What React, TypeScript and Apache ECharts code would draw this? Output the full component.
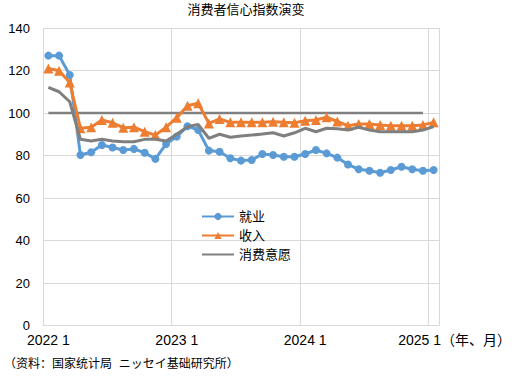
import React, { useEffect, useRef } from "react";
import * as echarts from "echarts";

const months: string[] = [
  "2022 1", "2022 2", "2022 3", "2022 4", "2022 5", "2022 6", "2022 7", "2022 8", "2022 9", "2022 10", "2022 11", "2022 12",
  "2023 1", "2023 2", "2023 3", "2023 4", "2023 5", "2023 6", "2023 7", "2023 8", "2023 9", "2023 10", "2023 11", "2023 12",
  "2024 1", "2024 2", "2024 3", "2024 4", "2024 5", "2024 6", "2024 7", "2024 8", "2024 9", "2024 10", "2024 11", "2024 12",
  "2025 1",
];

const employment: number[] = [
  127.0, 127.0, 117.9, 80.2, 81.5, 84.9, 83.8, 82.6, 83.1, 81.3, 78.4, 85.4,
  88.9, 93.8, 92.0, 82.3, 81.8, 78.7, 77.6, 77.9, 80.7, 80.2, 79.4, 79.4,
  80.7, 82.6, 81.0, 79.0, 75.8, 73.5, 72.8, 71.9, 73.2, 74.7, 73.5, 72.8,
  73.2,
];

const income: number[] = [
  121.0, 119.9, 114.3, 92.8, 93.3, 96.7, 95.4, 93.1, 93.3, 91.2, 89.6, 93.3,
  97.8, 103.4, 104.6, 95.1, 97.2, 95.6, 95.6, 95.6, 95.6, 95.9, 95.6, 95.4,
  96.4, 96.7, 98.0, 96.0, 94.0, 94.8, 94.8, 94.4, 94.0, 94.0, 94.0, 94.4,
  95.6,
];

const willingness: number[] = [
  112.1, 110.0, 105.3, 87.6, 86.8, 87.6, 86.8, 86.5, 86.5, 87.6, 87.6, 86.8,
  90.0, 93.5, 94.6, 88.1, 90.0, 88.6, 89.2, 89.6, 90.1, 90.7, 89.2, 90.7,
  92.8, 91.2, 92.8, 92.6, 92.0, 93.3, 92.0, 91.2, 91.2, 91.2, 91.2, 92.0,
  93.6,
];

const baseline: (number | null)[] = [
  100, 100, 100, 100, 100, 100, 100, 100, 100, 100, 100, 100,
  100, 100, 100, 100, 100, 100, 100, 100, 100, 100, 100, 100,
  100, 100, 100, 100, 100, 100, 100, 100, 100, 100, 100, 100,
  null,
];

const seriesNames = ["就业", "收入", "消费意愿"];
const yTicks = { min: 0, max: 140, interval: 20 };
const titleText = "消费者信心指数演变";
const sourceText = "（资料：国家统计局  ニッセイ基础研究所）";
const unitText = "（年、月）";

const FONT = "'Liberation Sans', Arial, 'Noto Sans CJK SC', sans-serif";

export default function App() {
  const ref = useRef<HTMLDivElement>(null);
  useEffect(() => {
    if (!ref.current) return;
    const chart = echarts.init(ref.current, null, { renderer: "svg" });
    const lastIdx = months.length - 1;
    chart.setOption({
      animation: false,
      backgroundColor: "#ffffff",
      textStyle: { fontFamily: FONT },
      title: {
        text: titleText,
        left: 246,
        top: 3,
        padding: 0,
        textAlign: "center",
        textStyle: { fontSize: 13, fontWeight: "normal", color: "#000", fontFamily: FONT },
      },
      graphic: [
        {
          type: "text",
          left: 4,
          top: 358,
          style: { text: sourceText, fontSize: 12, fill: "#000", fontFamily: FONT },
        },
      ],
      legend: {
        data: [
          { name: seriesNames[0] },
          { name: seriesNames[1] },
          { name: seriesNames[2], itemStyle: { opacity: 0 } },
        ],
        orient: "vertical",
        left: 196,
        top: 205,
        itemWidth: 32,
        itemHeight: 9,
        itemGap: 6,
        textStyle: { fontSize: 13, color: "#000", fontFamily: FONT },
      },
      grid: { left: 43, right: 72, top: 28, bottom: 51.5, containLabel: false },
      xAxis: {
        type: "category",
        data: months,
        boundaryGap: true,
        axisLine: { show: true, lineStyle: { color: "#d9d9d9", width: 1 } },
        axisTick: { show: false },
        axisLabel: {
          interval: (i: number) => i % 12 === 0,
          margin: 7,
          fontSize: 14,
          color: "#000",
          fontFamily: FONT,
          formatter: (v: string, i: number) => (i === lastIdx ? "{a|" + v + unitText + "}" : v),
          rich: { a: { fontSize: 14, color: "#000", padding: [0, 0, 0, 42], fontFamily: FONT } },
        },
        splitLine: {
          show: true,
          interval: (i: number) => i % 12 === 0,
          lineStyle: { color: "#d9d9d9", width: 1 },
        },
      },
      yAxis: {
        type: "value",
        min: yTicks.min,
        max: yTicks.max,
        interval: yTicks.interval,
        axisLine: { show: true, lineStyle: { color: "#d9d9d9", width: 1 } },
        axisTick: { show: false },
        axisLabel: { fontSize: 13, color: "#000", margin: 13, fontFamily: FONT },
        splitLine: { show: true, lineStyle: { color: "#d9d9d9", width: 1 } },
      },
      series: [
        {
          name: "基准",
          type: "line",
          data: baseline,
          symbol: "none",
          lineStyle: { color: "#808080", width: 2.5 },
          itemStyle: { color: "#808080" },
          z: 1,
        },
        {
          name: "就业",
          type: "line",
          data: employment,
          symbol: "circle",
          symbolSize: 8,
          showSymbol: true,
          showAllSymbol: true,
          lineStyle: { color: "#5B9BD5", width: 3 },
          itemStyle: { color: "#5B9BD5" },
          z: 2,
        },
        {
          name: "收入",
          type: "line",
          data: income,
          symbol: "triangle",
          symbolSize: 10,
          showSymbol: true,
          showAllSymbol: true,
          lineStyle: { color: "#ED7D31", width: 3 },
          itemStyle: { color: "#ED7D31" },
          z: 3,
        },
        {
          name: "消费意愿",
          type: "line",
          data: willingness,
          symbol: "none",
          lineStyle: { color: "#7F7F7F", width: 3 },
          itemStyle: { color: "#7F7F7F" },
          z: 4,
        },
      ],
    });
    return () => chart.dispose();
  }, []);
  return (
    <div
      ref={ref}
      style={{ position: "absolute", left: 0, top: 0, width: 514, height: 377, background: "#fff" }}
    />
  );
}
